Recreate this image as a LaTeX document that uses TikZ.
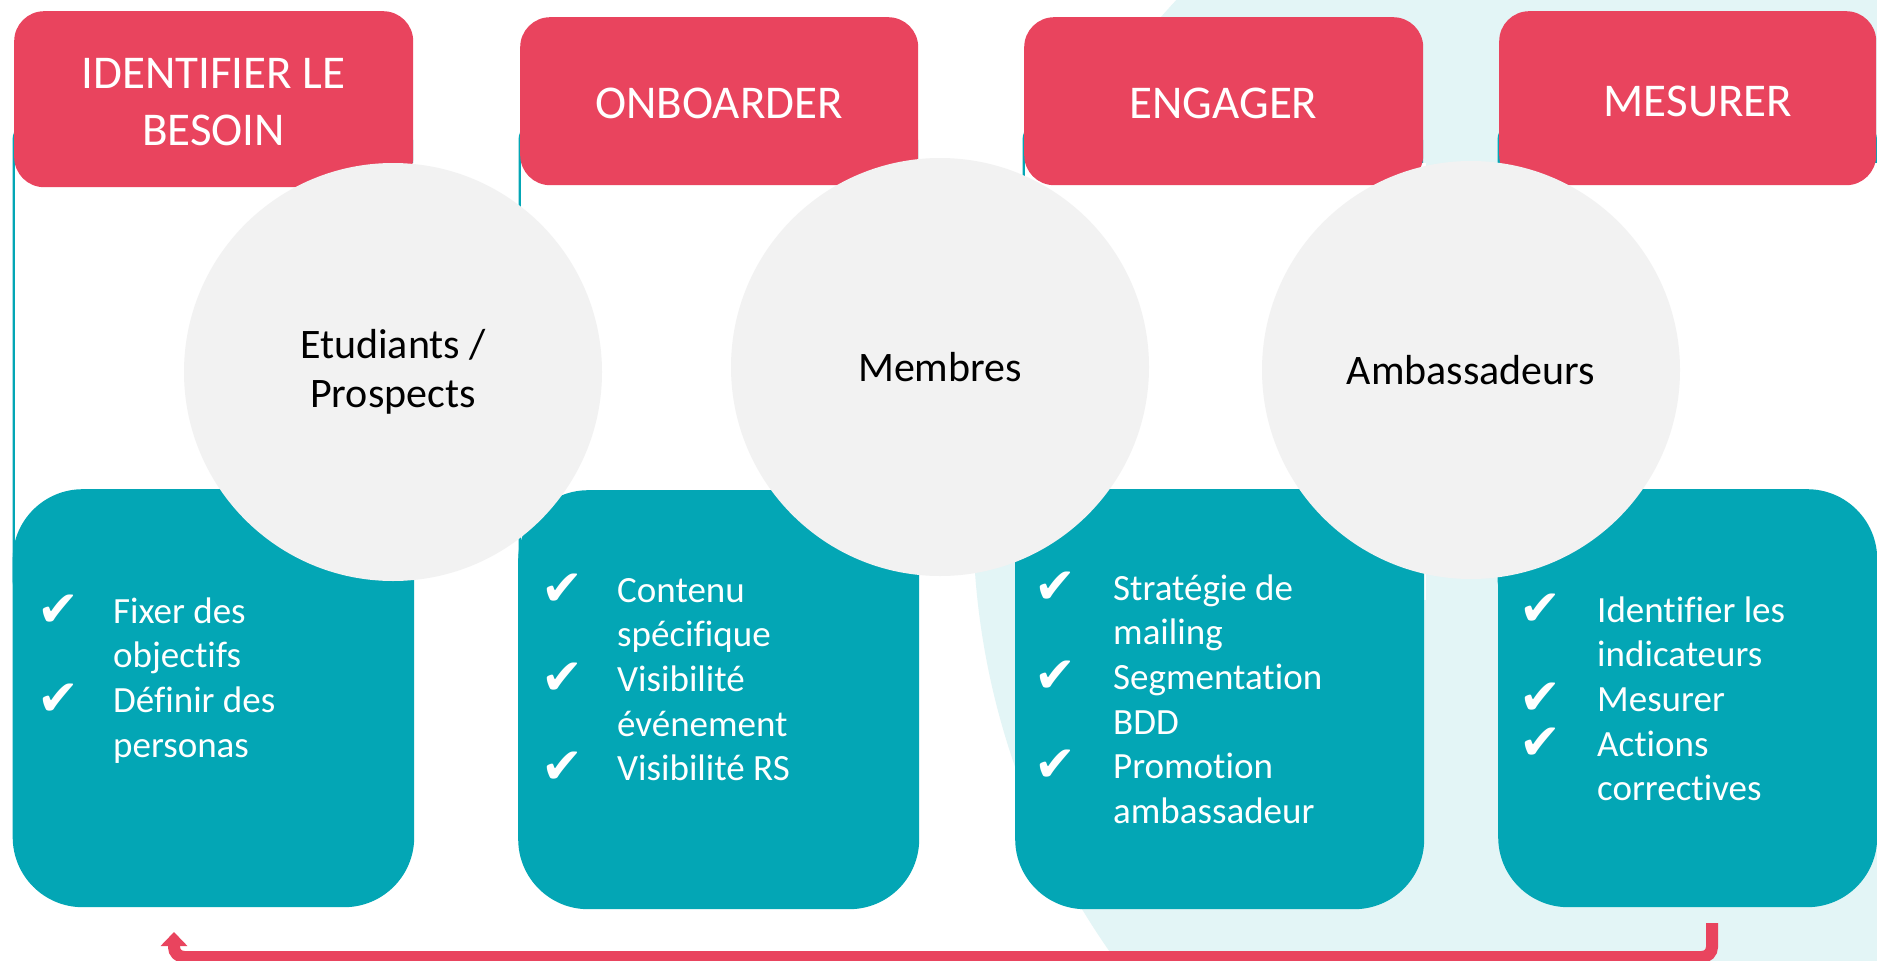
\documentclass[tikz,border=0pt]{standalone}
\usepackage{fontspec}
\setmainfont{Carlito}[Ligatures=NoCommon]
\newfontfamily\symfont{DejaVu Sans}
\usetikzlibrary{arrows.meta}
\definecolor{hred}{RGB}{233,68,94}
\definecolor{hteal}{RGB}{3,166,181}
\definecolor{lteal}{RGB}{227,245,246}
\definecolor{cgray}{RGB}{242,242,242}
\newcommand{\ck}{\smash{\raisebox{-3pt}{\fontsize{50}{50}\symfont ✔}}}
\begin{document}
\begin{tikzpicture}[x=1pt,y=-1pt,
  headbox/.style={fill=hred, draw=none, rounded corners=30pt, inner sep=0pt, anchor=north west},
  headtext/.style={text=white, font=\fontsize{47}{57}\selectfont, align=center, inner sep=0pt},
  listbox/.style={fill=hteal, draw=none, rounded corners=70pt, inner sep=0pt, anchor=north west},
  tealsliver/.style={fill=hteal, rounded corners=20pt},
  whitemask/.style={fill=white},
  bubble/.style={circle, fill=cgray, draw=none, minimum size=418pt, inner sep=0pt,
    font=\fontsize{42}{49}\selectfont, align=center, text=black},
  listtext/.style={text=white, font=\fontsize{37}{44.7}\selectfont, anchor=base west, inner sep=0pt},
  backarrow/.style={draw=hred, line width=12pt, rounded corners=10pt,
    -{Triangle[width=26pt,length=14pt]}}
]
\path[use as bounding box] (0,0) rectangle (1877,961);
\fill[white] (0,0) rectangle (1877,961);
\begin{scope}
\clip (0,0) rectangle (1877,961);
% light teal background disc
\fill[lteal] (1732,517) circle[radius=759];

% column 1
\fill[tealsliver] (12.5,120) rectangle (413,600);
\fill[whitemask] (14.5,163) rectangle (416,600);
\node[listbox, minimum width=401.5pt, minimum height=418pt] (b1) at (12.5,489) {};
\node[headbox, minimum width=399pt, minimum height=176pt] (h1) at (14,11) {};
\node[headtext] (t1) at (213.5,101.7) {IDENTIFIER LE\\BESOIN};

% column 2
\fill[tealsliver] (518.5,120) rectangle (918,600);
\fill[whitemask] (520.5,163) rectangle (921,600);
\node[listbox, minimum width=401pt, minimum height=419pt] (b2) at (518,490) {};
\node[headbox, minimum width=398pt, minimum height=168pt] (h2) at (520,17) {};
\node[headtext] (t2) at (719,103.5) {ONBOARDER};

% column 3
\fill[tealsliver] (1022.5,120) rectangle (1423,600);
\fill[whitemask] (1024.5,163) rectangle (1426,600);
\node[listbox, minimum width=409pt, minimum height=420pt] (b3) at (1015,489) {};
\node[headbox, minimum width=399pt, minimum height=168pt] (h3) at (1024,17) {};
\node[headtext] (t3) at (1223.5,103.5) {ENGAGER};

% column 4
\fill[tealsliver] (1497.5,120) rectangle (1877,600);
\fill[whitemask] (1499.5,163) rectangle (1880,600);
\node[listbox, minimum width=379pt, minimum height=418pt] (b4) at (1498,489) {};
\node[headbox, minimum width=377pt, minimum height=174pt] (h4) at (1499,11) {};
\node[headtext] (t4) at (1698,101) {MESURER};

% circles
\node[bubble] (c1) at (393,372) {Etudiants /\\Prospects};
\node[bubble] (c2) at (940,367) {Membres};
\node[bubble] (c3) at (1471,370) {Ambassadeurs};

% lists
\node[listtext] (l1) at (37,623) {\begin{tabular}[t]{@{}p{76pt}@{}l@{}}
\ck & Fixer des\\ & objectifs\\ \ck & Définir des\\ & personas\end{tabular}};
\node[listtext] (l2) at (541,602) {\begin{tabular}[t]{@{}p{76pt}@{}l@{}}
\ck & Contenu\\ & spécifique\\ \ck & Visibilité\\ & événement\\ \ck & Visibilité RS\end{tabular}};
\node[listtext] (l3) at (1034,600) {\begin{tabular}[t]{@{}p{79pt}@{}l@{}}
\ck & Stratégie de\\ & mailing\\ \ck & Segmentation\\ & BDD\\ \ck & Promotion\\ & ambassadeur\end{tabular}};
\node[listtext] (l4) at (1519,622) {\begin{tabular}[t]{@{}p{78pt}@{}l@{}}
\ck & Identifier les\\ & indicateurs\\ \ck & Mesurer\\ \ck & Actions\\ & correctives\end{tabular}};

% return arrow
\coordinate (ls) at (1712,923);
\coordinate (le) at (174,932);
\coordinate (lb) at (0,957);
\draw[backarrow] (ls) -- (ls |- lb) -- (le |- lb) -- (le);
\end{scope}
\end{tikzpicture}
\end{document}
